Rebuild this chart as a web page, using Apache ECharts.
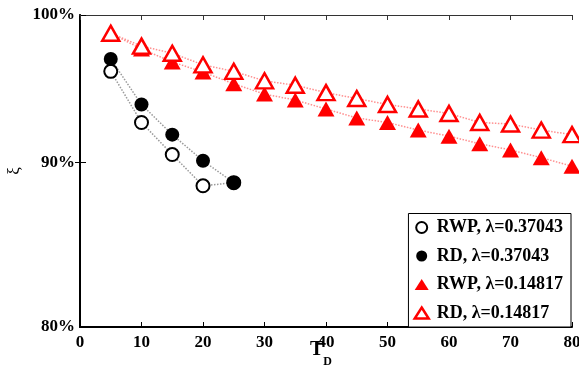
<!DOCTYPE html>
<html>
<head>
<meta charset="utf-8">
<script src="https://cdn.jsdelivr.net/npm/echarts@6/dist/echarts.min.js"></script>
<style>html,body{margin:0;padding:0;background:#fff}#c{width:579px;height:368px}</style>
</head>
<body>
<div id="c"></div>
<script>
const tdShort = [5, 10, 15, 20, 25];
const tdLong = [5, 10, 15, 20, 25, 30, 35, 40, 45, 50, 55, 60, 65, 70, 75, 80];
const rwpHigh = [96.05, 92.6, 90.5, 88.5, 88.7];
const rdHigh = [96.9, 93.8, 91.8, 90.1, 88.7];
const rwpLow = [98.7, 97.6, 96.7, 96.0, 95.2, 94.5, 94.1, 93.5, 92.9, 92.6, 92.1, 91.7, 91.2, 90.8, 90.3, 89.75];
const rdLow = [98.7, 97.8, 97.3, 96.5, 96.05, 95.4, 95.1, 94.6, 94.2, 93.8, 93.5, 93.2, 92.6, 92.5, 92.1, 91.8];
const yTicks = [80, 90, 100];
const names = ['RWP, λ=0.37043', 'RD, λ=0.37043', 'RWP, λ=0.14817', 'RD, λ=0.14817'];

const pairs = (xs, ys) => ys.map((v, i) => [xs[i], v]);
const serif = 'Liberation Serif';

const styles = [
  {symbol: 'circle', symbolSize: 13, itemStyle: {color: '#fff', borderColor: '#000', borderWidth: 2}, line: '#9a9a9a'},
  {symbol: 'circle', symbolSize: 14, itemStyle: {color: '#000', borderColor: '#000', borderWidth: 0}, line: '#9a9a9a'},
  {symbol: 'triangle', symbolSize: [17, 15], itemStyle: {color: '#ff0000', borderColor: '#ff0000', borderWidth: 0}, line: '#ff9090'},
  {symbol: 'triangle', symbolSize: [17, 15], itemStyle: {color: '#fff', borderColor: '#ff0000', borderWidth: 2.5}, line: '#ff9090'}
];
const datas = [pairs(tdShort, rwpHigh), pairs(tdShort, rdHigh), pairs(tdLong, rwpLow), pairs(tdLong, rdLow)];

const chart = echarts.init(document.getElementById('c'), null, {renderer: 'canvas'});
chart.setOption({
  animation: false,
  backgroundColor: '#fff',
  grid: {left: 80, right: 7, top: 15, bottom: 41, containLabel: false, outerBoundsMode: 'none'},
  xAxis: [{
    type: 'value', min: 0, max: 80, interval: 10, position: 'bottom',
    axisLine: {lineStyle: {color: '#000', width: 2}},
    axisTick: {inside: true, length: 5, lineStyle: {color: '#000', width: 1}},
    axisLabel: {color: '#000', fontFamily: serif, fontWeight: 'bold', fontSize: 17, margin: 7},
    splitLine: {show: false},
    name: '{t|T}{d|D}', nameLocation: 'middle', nameGap: 13, nameMoveOverlap: false,
    nameTextStyle: {rich: {
      t: {fontFamily: serif, fontWeight: 'bold', fontSize: 20, color: '#000', lineHeight: 20},
      d: {fontFamily: serif, fontWeight: 'bold', fontSize: 12, color: '#000', padding: [23, 10, 0, 0], lineHeight: 12}
    }}
  }, {
    type: 'value', min: 0, max: 80, interval: 10, position: 'top',
    axisLine: {lineStyle: {color: '#333', width: 1}},
    axisTick: {inside: true, length: 5, lineStyle: {color: '#333', width: 1}},
    axisLabel: {show: false}, splitLine: {show: false}
  }],
  yAxis: [{
    type: 'log', logBase: 10, min: 80, max: 100, position: 'left',
    axisLine: {show: true, lineStyle: {color: '#000', width: 2}},
    axisTick: {show: true, inside: true, length: 6, customValues: yTicks, lineStyle: {color: '#000'}},
    axisLabel: {customValues: yTicks, formatter: v => Math.round(v) + '%', color: '#000', fontFamily: serif, fontWeight: 'bold', fontSize: 17, margin: 5},
    minorTick: {show: false},
    splitLine: {show: false},
    name: 'ξ', nameLocation: 'middle', nameGap: 57, nameRotate: 90, nameMoveOverlap: false,
    nameTextStyle: {fontFamily: serif, fontSize: 17, color: '#000'}
  }, {
    type: 'log', logBase: 10, min: 80, max: 100, position: 'right',
    axisLine: {show: true, lineStyle: {color: '#000', width: 1.5}},
    axisTick: {show: true, inside: true, length: 5, customValues: [90], lineStyle: {color: '#000'}},
    axisLabel: {show: false}, splitLine: {show: false}
  }],
  legend: {
    orient: 'vertical', right: 8, bottom: 41,
    backgroundColor: '#fff', borderColor: '#000', borderWidth: 1,
    padding: [5, 8, 5, 5], itemGap: 10.5, itemWidth: 14, itemHeight: 11,
    textStyle: {fontFamily: serif, fontWeight: 'bold', fontSize: 18, color: '#000', padding: [0, 0, 0, 3]},
    data: names.map((n, i) => ({
      name: n, icon: styles[i].symbol,
      itemStyle: styles[i].itemStyle
    }))
  },
  series: names.map((n, i) => ({
    name: n, type: 'line', data: datas[i],
    symbol: styles[i].symbol, symbolSize: styles[i].symbolSize,
    itemStyle: styles[i].itemStyle,
    lineStyle: {color: styles[i].line, width: 1.5, type: 'dotted'},
    showSymbol: true
  }))
});
</script>
</body>
</html>
